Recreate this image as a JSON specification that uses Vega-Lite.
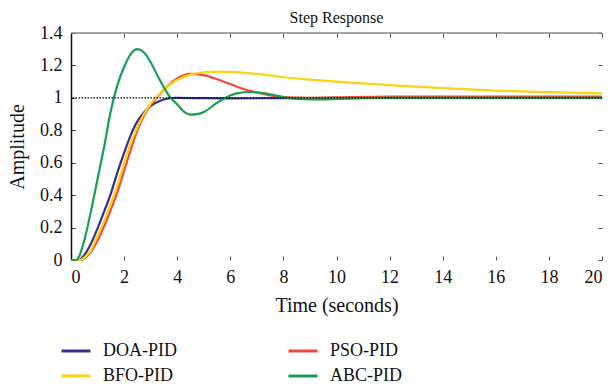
{
  "$schema": "https://vega.github.io/schema/vega-lite/v6.json",
  "width": 531,
  "height": 227,
  "autosize": {"type": "none"},
  "padding": {"left": 71, "top": 33, "right": 11, "bottom": 127},
  "background": "white",
  "config": {
    "view": {"stroke": null},
    "font": "Liberation Serif",
    "axis": {"labelFont": "Liberation Serif", "titleFont": "Liberation Serif", "labelFontSize": 18, "titleFontSize": 20, "labelColor": "#111", "titleColor": "#111", "titleFontWeight": "normal", "grid": false},
    "legend": {"labelFont": "Liberation Serif", "labelFontSize": 18, "labelColor": "#111"}
  },
  "title": {"text": "Step Response", "fontSize": 16, "font": "Liberation Serif", "fontWeight": "normal", "color": "#111", "offset": 9, "dy": 11},
  "datasets": {
    "resp": [
      {"t": 0, "v": 0, "s": "DOA-PID"}, {"t": 0.3, "v": 0, "s": "DOA-PID"}, {"t": 0.5, "v": 0.03, "s": "DOA-PID"}, {"t": 0.75, "v": 0.1, "s": "DOA-PID"}, {"t": 1.0, "v": 0.195, "s": "DOA-PID"}, {"t": 1.25, "v": 0.3, "s": "DOA-PID"}, {"t": 1.5, "v": 0.41, "s": "DOA-PID"}, {"t": 1.75, "v": 0.54, "s": "DOA-PID"}, {"t": 2.0, "v": 0.66, "s": "DOA-PID"}, {"t": 2.25, "v": 0.77, "s": "DOA-PID"}, {"t": 2.5, "v": 0.855, "s": "DOA-PID"}, {"t": 2.75, "v": 0.91, "s": "DOA-PID"}, {"t": 3.0, "v": 0.95, "s": "DOA-PID"}, {"t": 3.25, "v": 0.975, "s": "DOA-PID"}, {"t": 3.5, "v": 0.99, "s": "DOA-PID"}, {"t": 3.75, "v": 0.998, "s": "DOA-PID"}, {"t": 4.0, "v": 1.0, "s": "DOA-PID"}, {"t": 5.0, "v": 0.998, "s": "DOA-PID"}, {"t": 6.0, "v": 0.997, "s": "DOA-PID"}, {"t": 8.0, "v": 0.998, "s": "DOA-PID"}, {"t": 10.0, "v": 1.0, "s": "DOA-PID"}, {"t": 20.0, "v": 1.0, "s": "DOA-PID"},

      {"t": 0, "v": 0, "s": "PSO-PID"}, {"t": 0.4, "v": 0, "s": "PSO-PID"}, {"t": 0.5, "v": 0.01, "s": "PSO-PID"}, {"t": 0.75, "v": 0.05, "s": "PSO-PID"}, {"t": 1.0, "v": 0.12, "s": "PSO-PID"}, {"t": 1.25, "v": 0.21, "s": "PSO-PID"}, {"t": 1.5, "v": 0.31, "s": "PSO-PID"}, {"t": 1.75, "v": 0.42, "s": "PSO-PID"}, {"t": 2.0, "v": 0.55, "s": "PSO-PID"}, {"t": 2.25, "v": 0.68, "s": "PSO-PID"}, {"t": 2.5, "v": 0.8, "s": "PSO-PID"}, {"t": 2.75, "v": 0.89, "s": "PSO-PID"}, {"t": 3.0, "v": 0.955, "s": "PSO-PID"}, {"t": 3.25, "v": 1.005, "s": "PSO-PID"}, {"t": 3.5, "v": 1.05, "s": "PSO-PID"}, {"t": 3.75, "v": 1.09, "s": "PSO-PID"}, {"t": 4.0, "v": 1.12, "s": "PSO-PID"}, {"t": 4.5, "v": 1.148, "s": "PSO-PID"}, {"t": 5.0, "v": 1.14, "s": "PSO-PID"}, {"t": 5.5, "v": 1.115, "s": "PSO-PID"}, {"t": 6.0, "v": 1.085, "s": "PSO-PID"}, {"t": 6.5, "v": 1.055, "s": "PSO-PID"}, {"t": 7.0, "v": 1.033, "s": "PSO-PID"}, {"t": 7.5, "v": 1.015, "s": "PSO-PID"}, {"t": 8.0, "v": 1.005, "s": "PSO-PID"}, {"t": 9.0, "v": 1.0, "s": "PSO-PID"}, {"t": 10.0, "v": 1.003, "s": "PSO-PID"}, {"t": 12.0, "v": 1.008, "s": "PSO-PID"}, {"t": 20.0, "v": 1.008, "s": "PSO-PID"},

      {"t": 0, "v": 0, "s": "BFO-PID"}, {"t": 0.35, "v": 0, "s": "BFO-PID"}, {"t": 0.5, "v": 0.015, "s": "BFO-PID"}, {"t": 0.75, "v": 0.06, "s": "BFO-PID"}, {"t": 1.0, "v": 0.15, "s": "BFO-PID"}, {"t": 1.25, "v": 0.24, "s": "BFO-PID"}, {"t": 1.5, "v": 0.35, "s": "BFO-PID"}, {"t": 1.75, "v": 0.46, "s": "BFO-PID"}, {"t": 2.0, "v": 0.6, "s": "BFO-PID"}, {"t": 2.25, "v": 0.72, "s": "BFO-PID"}, {"t": 2.5, "v": 0.82, "s": "BFO-PID"}, {"t": 2.75, "v": 0.9, "s": "BFO-PID"}, {"t": 3.0, "v": 0.965, "s": "BFO-PID"}, {"t": 3.25, "v": 1.01, "s": "BFO-PID"}, {"t": 3.5, "v": 1.05, "s": "BFO-PID"}, {"t": 3.75, "v": 1.085, "s": "BFO-PID"}, {"t": 4.0, "v": 1.11, "s": "BFO-PID"}, {"t": 4.5, "v": 1.143, "s": "BFO-PID"}, {"t": 5.0, "v": 1.158, "s": "BFO-PID"}, {"t": 5.5, "v": 1.162, "s": "BFO-PID"}, {"t": 6.0, "v": 1.16, "s": "BFO-PID"}, {"t": 7.0, "v": 1.148, "s": "BFO-PID"}, {"t": 8.0, "v": 1.127, "s": "BFO-PID"}, {"t": 9.0, "v": 1.112, "s": "BFO-PID"}, {"t": 10.0, "v": 1.1, "s": "BFO-PID"}, {"t": 12.0, "v": 1.078, "s": "BFO-PID"}, {"t": 14.0, "v": 1.06, "s": "BFO-PID"}, {"t": 16.0, "v": 1.045, "s": "BFO-PID"}, {"t": 18.0, "v": 1.035, "s": "BFO-PID"}, {"t": 20.0, "v": 1.027, "s": "BFO-PID"},

      {"t": 0, "v": 0, "s": "ABC-PID"}, {"t": 0.2, "v": 0, "s": "ABC-PID"}, {"t": 0.3, "v": 0.02, "s": "ABC-PID"}, {"t": 0.5, "v": 0.12, "s": "ABC-PID"}, {"t": 0.75, "v": 0.3, "s": "ABC-PID"}, {"t": 1.0, "v": 0.5, "s": "ABC-PID"}, {"t": 1.25, "v": 0.7, "s": "ABC-PID"}, {"t": 1.5, "v": 0.92, "s": "ABC-PID"}, {"t": 1.75, "v": 1.08, "s": "ABC-PID"}, {"t": 2.0, "v": 1.19, "s": "ABC-PID"}, {"t": 2.25, "v": 1.27, "s": "ABC-PID"}, {"t": 2.5, "v": 1.3, "s": "ABC-PID"}, {"t": 2.75, "v": 1.28, "s": "ABC-PID"}, {"t": 3.0, "v": 1.22, "s": "ABC-PID"}, {"t": 3.25, "v": 1.14, "s": "ABC-PID"}, {"t": 3.5, "v": 1.065, "s": "ABC-PID"}, {"t": 3.75, "v": 1.0, "s": "ABC-PID"}, {"t": 4.0, "v": 0.96, "s": "ABC-PID"}, {"t": 4.25, "v": 0.915, "s": "ABC-PID"}, {"t": 4.5, "v": 0.897, "s": "ABC-PID"}, {"t": 4.75, "v": 0.9, "s": "ABC-PID"}, {"t": 5.0, "v": 0.912, "s": "ABC-PID"}, {"t": 5.5, "v": 0.97, "s": "ABC-PID"}, {"t": 6.0, "v": 1.015, "s": "ABC-PID"}, {"t": 6.25, "v": 1.028, "s": "ABC-PID"}, {"t": 6.75, "v": 1.036, "s": "ABC-PID"}, {"t": 7.5, "v": 1.022, "s": "ABC-PID"}, {"t": 8.0, "v": 1.005, "s": "ABC-PID"}, {"t": 8.5, "v": 0.993, "s": "ABC-PID"}, {"t": 9.0, "v": 0.99, "s": "ABC-PID"}, {"t": 10.0, "v": 0.993, "s": "ABC-PID"}, {"t": 11.0, "v": 0.998, "s": "ABC-PID"}, {"t": 12.0, "v": 1.0, "s": "ABC-PID"}, {"t": 20.0, "v": 1.0, "s": "ABC-PID"}
    ],
    "ref": [{"level": 1}],
    "frame": [{"x0": 0, "x1": 20, "top": 1.4}]
  },
  "layer": [
    {
      "data": {"name": "resp"},
      "mark": {"type": "line", "strokeWidth": 2.2, "interpolate": "monotone"},
      "encoding": {
        "x": {"field": "t", "type": "quantitative", "scale": {"domain": [0, 20], "nice": false},
          "axis": {"orient": "bottom", "title": "Time (seconds)", "values": [0, 2, 4, 6, 8, 10, 12, 14, 16, 18, 20], "domain": false, "tickSize": -4, "tickColor": "#555", "labelPadding": 12, "titlePadding": 9}},
        "y": {"field": "v", "type": "quantitative", "scale": {"domain": [0, 1.4], "nice": false},
          "axis": {"orient": "left", "title": "Amplitude", "values": [0, 0.2, 0.4, 0.6, 0.8, 1, 1.2, 1.4], "format": "~g", "domain": true, "domainColor": "#111", "domainWidth": 1.5, "tickSize": -4, "tickColor": "#333", "labelPadding": 13, "titlePadding": 12}},
        "color": {"field": "s", "type": "nominal",
          "scale": {"domain": ["DOA-PID", "PSO-PID", "BFO-PID", "ABC-PID"], "range": ["#33318f", "#ee4a35", "#fdd20f", "#17a050"]},
          "legend": {"title": null, "orient": "none", "legendX": -11, "legendY": 302, "columns": 2, "direction": "horizontal", "symbolType": "stroke", "symbolSize": 841, "symbolStrokeWidth": 3, "labelOffset": 11, "columnPadding": 105, "rowPadding": -3, "padding": 0}},
        "order": {"field": "t", "type": "quantitative"}
      }
    },
    {
      "data": {"name": "ref"},
      "mark": {"type": "rule", "color": "#000", "strokeWidth": 1.4, "strokeDash": [1.5, 1.5]},
      "encoding": {"y": {"field": "level", "type": "quantitative", "axis": null}}
    },
    {
      "data": {"name": "frame"},
      "mark": {"type": "rule", "color": "#888", "strokeWidth": 1.5},
      "encoding": {
        "x": {"field": "x0", "type": "quantitative", "axis": {"orient": "top", "title": null, "labels": false, "domain": false, "values": [0, 2, 4, 6, 8, 10, 12, 14, 16, 18, 20], "tickSize": -4, "tickColor": "#555"}},
        "x2": {"field": "x1"},
        "y": {"field": "top", "type": "quantitative", "axis": {"orient": "right", "title": null, "labels": false, "domain": false, "values": [0, 0.2, 0.4, 0.6, 0.8, 1, 1.2, 1.4], "tickSize": -4, "tickColor": "#555"}}
      }
    }
  ],
  "resolve": {"axis": {"x": "independent", "y": "independent"}}
}
